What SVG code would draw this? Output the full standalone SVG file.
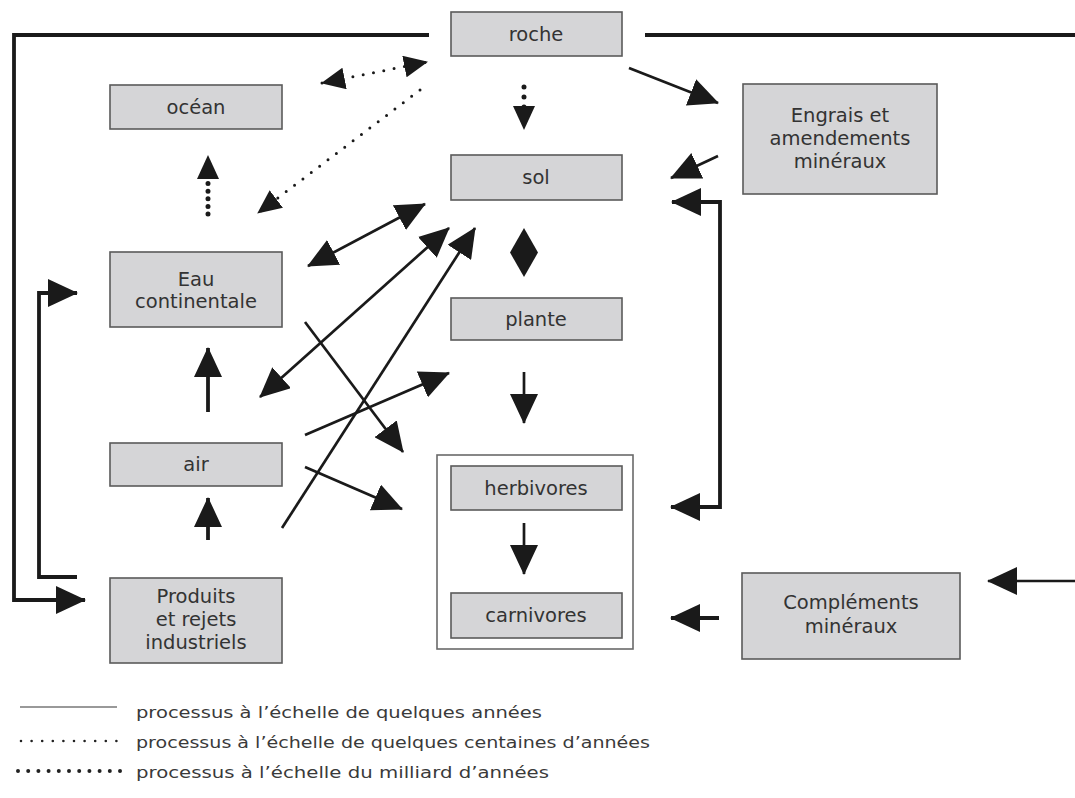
<svg xmlns="http://www.w3.org/2000/svg" width="1075" height="798" viewBox="0 0 1075 798">
<style>
.box{fill:#d5d5d7;stroke:#5a5a5a;stroke-width:1.6}
.cont{fill:#ffffff;stroke:#6a6a6a;stroke-width:1.6}
.t{font-family:"DejaVu Sans","Liberation Sans",sans-serif;font-size:19.5px;fill:#333333;text-anchor:middle}
.lg{font-family:"DejaVu Sans","Liberation Sans",sans-serif;font-size:16.5px;fill:#3a3a3a}
.s{fill:none;stroke:#1a1a1a;stroke-width:2.7}
.b{fill:none;stroke:#1a1a1a;stroke-width:3.8}
.dot{fill:none;stroke:#1a1a1a;stroke-width:3;stroke-linecap:round;stroke-dasharray:0 10.5}
.bigdot{fill:none;stroke:#1a1a1a;stroke-width:5;stroke-linecap:round}
.hd{fill:none;stroke:none}
</style>
<defs>
<marker id="a" markerUnits="userSpaceOnUse" markerWidth="30" markerHeight="28" refX="29" refY="14" orient="auto-start-reverse">
<path d="M0,0 L30,14 L0,28 z" fill="#1a1a1a"/>
</marker>
<marker id="m" markerUnits="userSpaceOnUse" markerWidth="24" markerHeight="22" refX="23" refY="11" orient="auto-start-reverse">
<path d="M0,0 L24,11 L0,22 z" fill="#1a1a1a"/>
</marker>
</defs>

<g id="animaux"><rect class="cont" x="437" y="455" width="196" height="194"/></g>

<g id="connectors">
<!-- outer loop roche -> produits -->
<path class="b" d="M429,35 L14,35 L14,600 L85,600" marker-end="url(#a)"/>
<path class="b" d="M645,35 L1075,35"/>
<!-- produits -> eau -->
<path class="b" d="M77,577 L39,577 L39,293 L77,293" marker-end="url(#a)"/>
<!-- roche <-> ocean -->
<path class="dot" d="M322,83 L427,62" marker-start="url(#m)" marker-end="url(#m)"/>
<!-- roche -> eau -->
<path class="dot" d="M420,90 L258,213" marker-end="url(#m)"/>
<!-- roche -> sol -->
<path class="bigdot" d="M524,87 L524,108" stroke-dasharray="0 10"/>
<path class="hd" d="M524,100 L524,129" marker-end="url(#m)"/>
<!-- eau -> ocean -->
<path class="bigdot" d="M208,214 L208,178" stroke-dasharray="0 7.6"/>
<path class="hd" d="M208,190 L208,156" marker-end="url(#m)"/>
<!-- roche -> engrais -->
<path class="s" d="M629,68 L718,103" marker-end="url(#a)"/>
<!-- engrais -> sol -->
<path class="s" d="M718,156 L671,178" marker-end="url(#a)"/>
<!-- right bracket sol <-> herbivores -->
<path class="b" d="M672,202 L720,202 L720,507 L671,507" marker-start="url(#a)" marker-end="url(#a)"/>
<!-- complements -> carnivores -->
<path class="b" d="M719,618 L671,618" marker-end="url(#a)"/>
<!-- incoming right -->
<path class="s" d="M1075,581 L988,581" marker-end="url(#a)"/>
<!-- sol <-> plante diamond -->
<path d="M524,228 L538,252.5 L524,277 L510,252.5 z" fill="#1a1a1a"/>
<!-- vertical arrows -->
<path class="b" d="M208,412 L208,348" marker-end="url(#a)"/>
<path class="b" d="M208,540 L208,498" marker-end="url(#a)"/>
<path class="s" d="M524,372 L524,423" marker-end="url(#a)"/>
<path class="s" d="M524,523 L524,574" marker-end="url(#a)"/>
<!-- diagonals -->
<path class="s" d="M425,204 L308,266" marker-start="url(#a)" marker-end="url(#a)"/>
<path class="s" d="M260,397 L449,228" marker-start="url(#a)" marker-end="url(#a)"/>
<path class="s" d="M282,528 L475,228" marker-end="url(#a)"/>
<path class="s" d="M305,322 L403,452" marker-end="url(#a)"/>
<path class="s" d="M305,435 L449,373" marker-end="url(#a)"/>
<path class="s" d="M305,467 L402,509" marker-end="url(#a)"/>
</g>

<g id="roche"><rect class="box" x="451" y="12" width="171" height="44"/><text class="t" x="536" y="41">roche</text></g>
<g id="ocean"><rect class="box" x="110" y="85" width="172" height="44"/><text class="t" x="196" y="114">océan</text></g>
<g id="engrais"><rect class="box" x="743" y="84" width="194" height="110"/>
<text class="t" x="840" y="122">Engrais et</text><text class="t" x="840" y="145">amendements</text><text class="t" x="840" y="168">minéraux</text></g>
<g id="sol"><rect class="box" x="451" y="155" width="171" height="45"/><text class="t" x="536" y="184">sol</text></g>
<g id="eau"><rect class="box" x="110" y="252" width="172" height="75"/>
<text class="t" x="196" y="286">Eau</text><text class="t" x="196" y="308">continentale</text></g>
<g id="plante"><rect class="box" x="451" y="298" width="171" height="42"/><text class="t" x="536" y="326">plante</text></g>
<g id="air"><rect class="box" x="110" y="443" width="172" height="43"/><text class="t" x="196" y="471">air</text></g>
<g id="herbivores"><rect class="box" x="451" y="466" width="171" height="44"/><text class="t" x="536" y="495">herbivores</text></g>
<g id="carnivores"><rect class="box" x="451" y="593" width="171" height="45"/><text class="t" x="536" y="622">carnivores</text></g>
<g id="produits"><rect class="box" x="110" y="578" width="172" height="85"/>
<text class="t" x="196" y="603">Produits</text><text class="t" x="196" y="626">et rejets</text><text class="t" x="196" y="649">industriels</text></g>
<g id="complements"><rect class="box" x="742" y="573" width="218" height="86"/>
<text class="t" x="851" y="609">Compléments</text><text class="t" x="851" y="633">minéraux</text></g>

<g id="legend">
<path d="M20,707 L117,707" stroke="#777" stroke-width="1.6"/>
<path d="M21,741 L117,741" stroke="#222" stroke-width="2.6" stroke-linecap="round" stroke-dasharray="0 10.6"/>
<path d="M18,771 L120,771" stroke="#222" stroke-width="4" stroke-linecap="round" stroke-dasharray="0 10.2"/>
<text class="lg" x="136" y="718" textLength="406" lengthAdjust="spacingAndGlyphs">processus à l’échelle de quelques années</text>
<text class="lg" x="136" y="748" textLength="514" lengthAdjust="spacingAndGlyphs">processus à l’échelle de quelques centaines d’années</text>
<text class="lg" x="136" y="778" textLength="413" lengthAdjust="spacingAndGlyphs">processus à l’échelle du milliard d’années</text>
</g>
</svg>
